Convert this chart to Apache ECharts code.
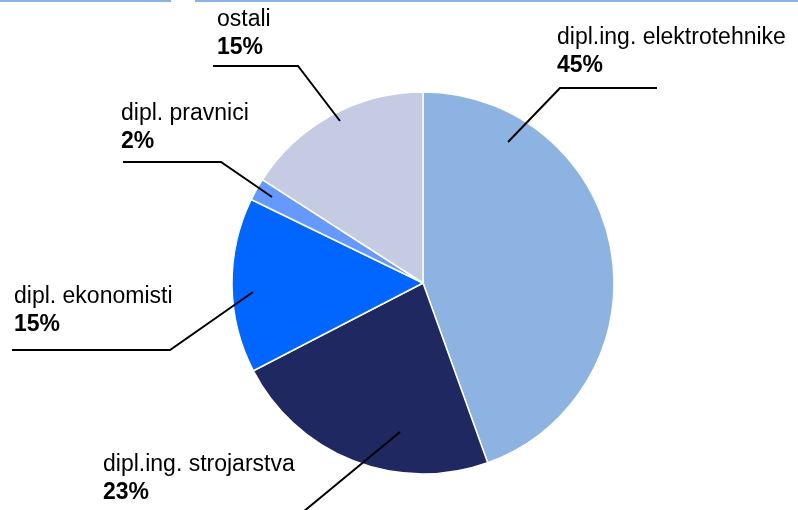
<!DOCTYPE html>
<html>
<head>
<meta charset="utf-8">
<script src="https://cdn.jsdelivr.net/npm/echarts@6/dist/echarts.min.js"></script>
<style>html,body{margin:0;padding:0;background:#fff}#c{width:798px;height:510px}</style>
</head>
<body>
<div id="c"></div>
<script>
const categories = ['dipl.ing. elektrotehnike', 'dipl.ing. strojarstva', 'dipl. ekonomisti', 'dipl. pravnici', 'ostali'];
const values = [44.5, 22.9, 14.8, 1.9, 15.9];
const percentLabels = ['45%', '23%', '15%', '2%', '15%'];
const colors = ['#8DB3E2', '#1F2861', '#0066FF', '#6699FF', '#C6CBE4'];

// label placement (text top-left and leader line points), per category
const labelPlacement = [
  { x: 557, y: 24,  line: [[508,142],[560,88],[657,88]] },
  { x: 103, y: 451, line: [[400,432],[303,512],[200,512]] },
  { x: 14,  y: 283, line: [[253,292],[170,350],[12,350]] },
  { x: 121, y: 100, line: [[272,197],[221,162],[123,162]] },
  { x: 217, y: 6,   line: [[340,121],[298,66],[213,66]] }
];

const FONT = 'Liberation Sans, Arial, sans-serif';
const chart = echarts.init(document.getElementById('c'), null, { renderer: 'canvas' });
chart.setOption({
  animation: false,
  graphic: [
    { type: 'rect', z: 10, shape: { x: 0, y: 0, width: 171, height: 2 }, style: { fill: '#8DB3E2' } },
    { type: 'rect', z: 10, shape: { x: 195, y: 0, width: 603, height: 2 }, style: { fill: '#8DB3E2' } }
  ].concat(labelPlacement.map(L => ({
    type: 'polyline', z: 100, shape: { points: L.line },
    style: { stroke: '#000', lineWidth: 2, fill: null }
  }))),
  series: [{
    type: 'pie',
    center: [423, 283],
    radius: 191,
    startAngle: 90,
    clockwise: true,
    avoidLabelOverlap: false,
    itemStyle: { borderColor: '#fff', borderWidth: 1.5 },
    data: categories.map((n, i) => ({ name: n, value: values[i], itemStyle: { color: colors[i] } })),
    label: {
      show: true,
      position: 'outside',
      formatter: p => '{n|' + p.name + '}\n{p|' + percentLabels[p.dataIndex] + '}',
      rich: {
        n: { fontFamily: FONT, fontSize: 23, color: '#000', lineHeight: 28 },
        p: { fontFamily: FONT, fontSize: 23, fontWeight: 'bold', color: '#000', lineHeight: 28 }
      }
    },
    labelLine: { show: false },
    labelLayout: params => {
      const L = labelPlacement[params.dataIndex];
      return { x: L.x, y: L.y, align: 'left', verticalAlign: 'top' };
    },
    emphasis: { disabled: true }
  }]
});
</script>
</body>
</html>
